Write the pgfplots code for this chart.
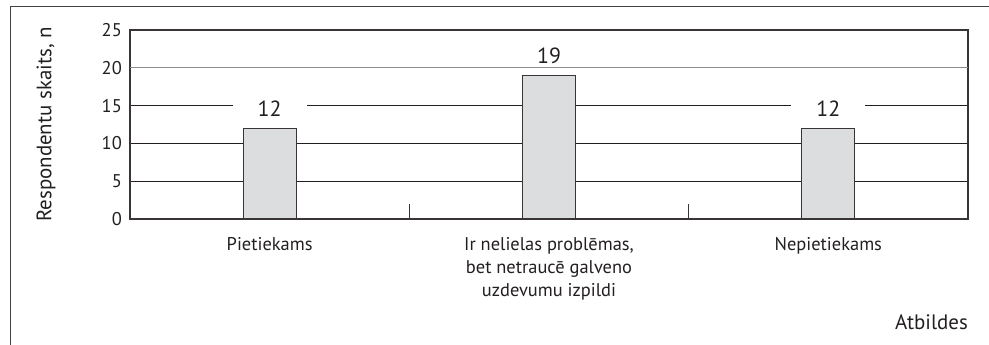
\documentclass[border=0pt]{standalone}
\usepackage{fontspec}
\setmainfont{PT Sans}
\usepackage{pgfplots}
\pgfplotsset{compat=1.18}
\definecolor{ink}{HTML}{231F20}
\definecolor{barfill}{HTML}{DCDDDF}
\begin{document}
\begin{tikzpicture}
\useasboundingbox (0,0) rectangle (989bp,345bp);
% outer frame (top and left edges)
\draw[ink!85, line width=1bp] (10bp,0) -- (10bp,338bp) -- (989bp,338bp);
\begin{axis}[
  at={(130bp,126bp)}, anchor=south west,
  scale only axis, width=838bp, height=189bp,
  xmin=-0.5, xmax=2.5, ymin=0, ymax=25,
  /pgf/number format/assume math mode=true,
  axis line style={ink!90, line width=1.3bp},
  ytick={0,5,10,15,25},
  extra y ticks={20},
  extra y tick style={grid style={black!45, line width=1bp}},
  ymajorgrids,
  grid style={ink, line width=0.9bp},
  ytick style={draw=none},
  ytick pos=left, xtick pos=bottom,
  y tick label style={font=\fontsize{18.5}{20}\selectfont, text=ink, inner sep=0pt, xshift=-8bp},
  xtick={0,1,2},
  xticklabels={Pietiekams, {Ir nelielas problēmas,\\bet netraucē galveno\\uzdevumu izpildi}, Nepietiekams},
  x tick label style={font=\fontsize{18.5}{23}\selectfont, text=ink, align=center, inner sep=0pt, yshift=-14bp},
  major x tick style={draw=none},
  extra x ticks={0.5,1.5},
  extra x tick labels={},
  extra x tick style={tick align=inside, major tick length=15bp, major x tick style={draw=ink!90, line width=0.8bp}},
  ylabel={Respondentu skaits, n},
  ylabel style={at={(axis description cs:-0.1002,0.5)}, anchor=center, font=\fontsize{21}{24}\selectfont, text=ink, inner sep=0pt},
  xlabel={Atbildes},
  xlabel style={at={(axis description cs:1,-0.545)}, anchor=east, font=\fontsize{21}{24}\selectfont, text=ink, inner sep=0pt},
  ybar, bar width=53bp,
  nodes near coords,
  nodes near coords style={font=\fontsize{22}{24}\selectfont, text=ink, fill=white, inner xsep=25bp, inner ysep=1bp, anchor=center, yshift=19.5bp},
]
\addplot[fill=barfill, draw=ink!90, line width=1.2bp] coordinates {(0,12) (1,19) (2,12)};
\draw[ink!90, line width=2bp] (rel axis cs:0,0) -- (rel axis cs:1,0);
\end{axis}
\end{tikzpicture}
\end{document}
